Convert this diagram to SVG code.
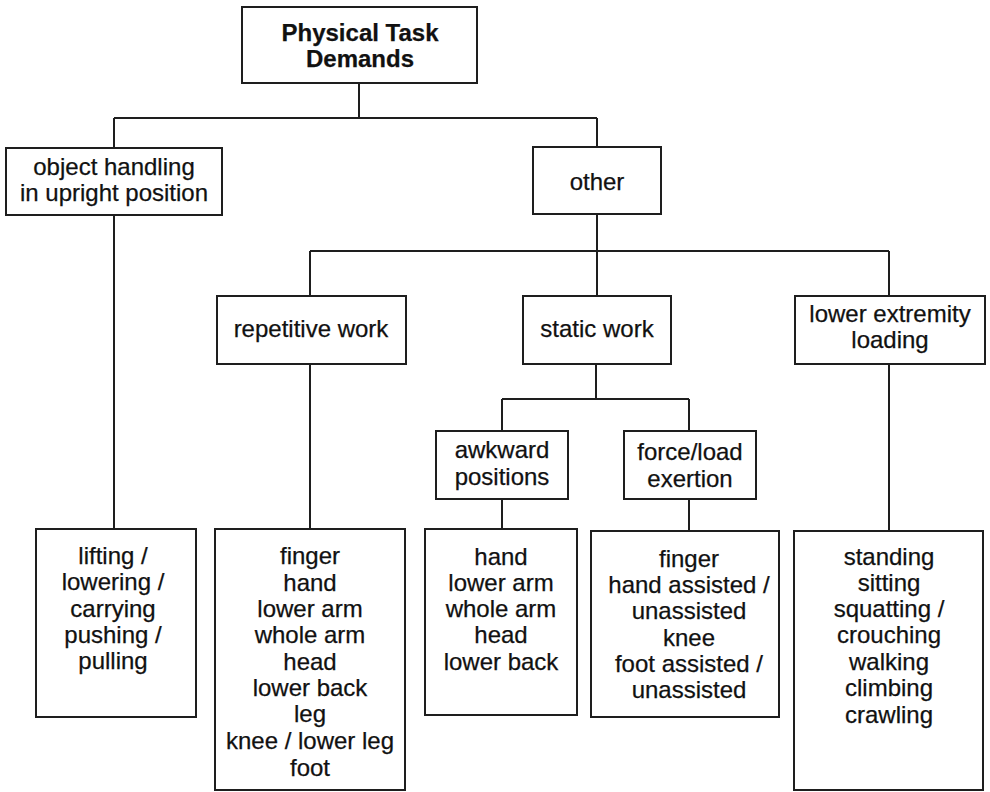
<svg xmlns="http://www.w3.org/2000/svg" width="990" height="792" viewBox="0 0 990 792">
  <style>
    .box { fill: #ffffff; stroke: #1e1e1e; stroke-width: 2; }
    .link { fill: none; stroke: #1e1e1e; stroke-width: 2; }
    text { font-family: "Liberation Sans", Arial, sans-serif; font-size: 24px; fill: #111111; text-anchor: middle; stroke: #111111; stroke-width: 0.25; }
    .title { font-weight: bold; }
  </style>
  <rect width="990" height="792" fill="#ffffff"/>

  <g id="connectors">
    <path class="link" d="M359,83 V118 M114,118 H597 M114,118 V148 M597,118 V147"/>
    <path class="link" d="M114,215 V529"/>
    <path class="link" d="M597,214 V251 M310,251 H889 M310,251 V296 M597,251 V296 M889,251 V296"/>
    <path class="link" d="M310,364 V529 M889,364 V531"/>
    <path class="link" d="M596,364 V399 M502,399 H689 M502,399 V431 M689,399 V431"/>
    <path class="link" d="M502,499 V529 M689,499 V531"/>
  </g>

  <g id="physical-task-demands">
    <rect class="box" x="242" y="7" width="235" height="76"/>
    <text class="title" x="360" y="41">Physical Task</text>
    <text class="title" x="360" y="67">Demands</text>
  </g>

  <g id="object-handling">
    <rect class="box" x="6" y="148" width="216" height="67"/>
    <text x="114" y="175">object handling</text>
    <text x="114" y="201">in upright position</text>
  </g>

  <g id="other">
    <rect class="box" x="533" y="147" width="128" height="67"/>
    <text x="597" y="190">other</text>
  </g>

  <g id="repetitive-work">
    <rect class="box" x="217" y="296" width="189" height="68"/>
    <text x="311" y="337">repetitive work</text>
  </g>

  <g id="static-work">
    <rect class="box" x="523" y="296" width="148" height="68"/>
    <text x="597" y="337">static work</text>
  </g>

  <g id="lower-extremity-loading">
    <rect class="box" x="795" y="296" width="190" height="68"/>
    <text x="890" y="322">lower extremity</text>
    <text x="890" y="348">loading</text>
  </g>

  <g id="awkward-positions">
    <rect class="box" x="436" y="431" width="132" height="68"/>
    <text x="502" y="458">awkward</text>
    <text x="502" y="485">positions</text>
  </g>

  <g id="force-load-exertion">
    <rect class="box" x="624" y="431" width="132" height="68"/>
    <text x="690" y="460">force/load</text>
    <text x="690" y="487">exertion</text>
  </g>

  <g id="object-handling-tasks">
    <rect class="box" x="36" y="529" width="160" height="188"/>
    <text x="113" y="564">lifting /</text>
    <text x="113" y="590">lowering /</text>
    <text x="113" y="617">carrying</text>
    <text x="113" y="643">pushing /</text>
    <text x="113" y="669">pulling</text>
  </g>

  <g id="repetitive-body-parts">
    <rect class="box" x="215" y="529" width="190" height="261"/>
    <text x="310" y="564">finger</text>
    <text x="310" y="591">hand</text>
    <text x="310" y="617">lower arm</text>
    <text x="310" y="643">whole arm</text>
    <text x="310" y="670">head</text>
    <text x="310" y="696">lower back</text>
    <text x="310" y="722">leg</text>
    <text x="310" y="749">knee / lower leg</text>
    <text x="310" y="776">foot</text>
  </g>

  <g id="awkward-body-parts">
    <rect class="box" x="425" y="529" width="152" height="186"/>
    <text x="501" y="565">hand</text>
    <text x="501" y="591">lower arm</text>
    <text x="501" y="617">whole arm</text>
    <text x="501" y="643">head</text>
    <text x="501" y="670">lower back</text>
  </g>

  <g id="force-body-parts">
    <rect class="box" x="591" y="531" width="188" height="186"/>
    <text x="689" y="567">finger</text>
    <text x="689" y="593">hand assisted /</text>
    <text x="689" y="619">unassisted</text>
    <text x="689" y="646">knee</text>
    <text x="689" y="672">foot assisted /</text>
    <text x="689" y="698">unassisted</text>
  </g>

  <g id="lower-extremity-postures">
    <rect class="box" x="794" y="531" width="189" height="259"/>
    <text x="889" y="565">standing</text>
    <text x="889" y="591">sitting</text>
    <text x="889" y="617">squatting /</text>
    <text x="889" y="643">crouching</text>
    <text x="889" y="670">walking</text>
    <text x="889" y="696">climbing</text>
    <text x="889" y="723">crawling</text>
  </g>
</svg>
